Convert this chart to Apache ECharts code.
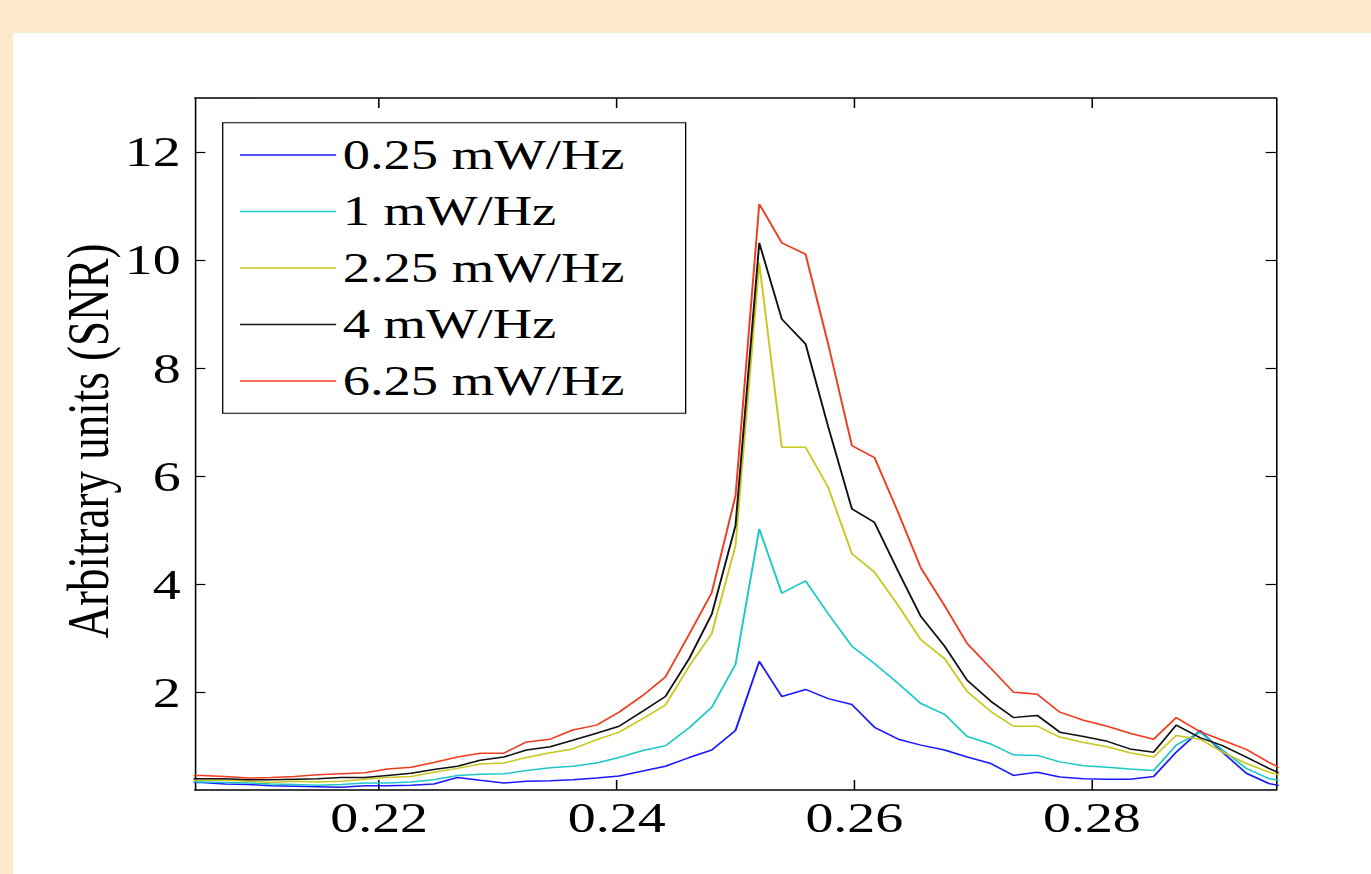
<!DOCTYPE html>
<html><head><meta charset="utf-8">
<script src="https://cdn.jsdelivr.net/npm/echarts@6/dist/echarts.min.js"></script>
<style>
html,body{margin:0;padding:0;width:1371px;height:874px;overflow:hidden;background:#fdeacb;}
#white{position:absolute;left:13px;top:33px;width:1358px;height:841px;background:#ffffff;}
#chart{position:absolute;left:0;top:0;width:1055px;height:874px;transform-origin:0 0;}
</style></head><body>
<div id="white"></div>
<div id="chart"></div>
<script>
// ---- data ----
const xValues = [0.2031,0.2051,0.2070,0.2090,0.2109,0.2129,0.2148,0.2168,0.2188,0.2207,0.2227,0.2246,0.2266,0.2285,0.2305,0.2324,0.2344,0.2363,0.2383,0.2402,0.2422,0.2441,0.2461,0.2480,0.2500,0.2520,0.2539,0.2559,0.2578,0.2598,0.2617,0.2637,0.2656,0.2676,0.2695,0.2715,0.2734,0.2754,0.2773,0.2793,0.2813,0.2832,0.2852,0.2871,0.2891,0.2910,0.2930,0.2949,0.2969];
const s025 = [0.34,0.34,0.31,0.30,0.28,0.27,0.26,0.25,0.28,0.28,0.29,0.31,0.43,0.38,0.33,0.36,0.37,0.39,0.42,0.46,0.55,0.64,0.80,0.94,1.30,2.58,1.93,2.06,1.89,1.78,1.36,1.14,1.03,0.94,0.81,0.69,0.47,0.53,0.44,0.41,0.40,0.40,0.45,0.90,1.30,0.90,0.51,0.32,0.23];
const s1 = [0.35,0.35,0.34,0.33,0.31,0.30,0.29,0.30,0.33,0.33,0.35,0.39,0.47,0.49,0.50,0.56,0.61,0.64,0.70,0.80,0.93,1.02,1.35,1.73,2.52,5.03,3.84,4.07,3.46,2.86,2.54,2.17,1.80,1.60,1.19,1.05,0.85,0.84,0.72,0.65,0.62,0.59,0.56,1.03,1.27,0.94,0.60,0.41,0.35];
const s225 = [0.38,0.38,0.38,0.36,0.34,0.36,0.35,0.36,0.40,0.43,0.45,0.53,0.60,0.68,0.70,0.80,0.89,0.96,1.13,1.27,1.52,1.77,2.49,3.09,4.72,9.95,6.54,6.54,5.80,4.57,4.23,3.61,2.98,2.63,2.02,1.65,1.38,1.38,1.18,1.08,1.00,0.89,0.81,1.21,1.14,0.90,0.69,0.53,0.42];
const s4 = [0.41,0.41,0.41,0.39,0.39,0.40,0.41,0.43,0.43,0.47,0.51,0.58,0.64,0.75,0.81,0.94,1.00,1.12,1.25,1.38,1.66,1.93,2.63,3.45,5.09,10.32,8.91,8.45,6.92,5.40,5.15,4.24,3.41,2.86,2.23,1.84,1.54,1.58,1.27,1.19,1.10,0.96,0.90,1.40,1.17,1.02,0.81,0.60,0.40];
const s625 = [0.47,0.47,0.45,0.42,0.43,0.45,0.48,0.50,0.52,0.59,0.62,0.71,0.81,0.88,0.88,1.09,1.14,1.31,1.40,1.64,1.95,2.29,3.08,3.85,5.64,11.04,10.32,10.11,8.45,6.57,6.35,5.33,4.31,3.61,2.91,2.45,2.01,1.97,1.64,1.49,1.38,1.25,1.14,1.54,1.28,1.12,0.95,0.71,0.50];
const seriesNames = ['0.25 mW/Hz','1 mW/Hz','2.25 mW/Hz','4 mW/Hz','6.25 mW/Hz'];
const seriesValues = [s025, s1, s225, s4, s625];
const seriesColors = ['#1a1aff','#1ec8c8','#c8c81e','#111111','#f03c1e'];
const xTicks = [0.22,0.24,0.26,0.28];
const yTicks = [2,4,6,8,10,12];
const yTitle = 'Arbitrary units (SNR)';

// ---- layout (reference is horizontally stretched; emulate with scaleX) ----
const SX = 1371/1055;
const el = document.getElementById('chart');
el.style.transform = 'scaleX(' + SX + ')';
const FONT = 'Liberation Serif, Times New Roman, serif';

const chart = echarts.init(el, null, {renderer:'svg'});

function xAxisDef(pos, labels){
  return {
    type:'value', position:pos, min:0.2045, max:0.2955,
    axisLine:{show:true, onZero:false, lineStyle:{color:'#000', width:1.5}},
    axisTick:{show:true, inside:true, length:10, customValues:xTicks, lineStyle:{color:'#000', width:1.2}},
    axisLabel:{show:labels, customValues:xTicks, fontSize:43, fontFamily:FONT, color:'#000', margin:6,
      formatter:v=>v.toFixed(2)},
    splitLine:{show:false}
  };
}
function yAxisDef(pos, labels){
  return {
    type:'value', position:pos, min:0.2, max:13,
    axisLine:{show:true, onZero:false, lineStyle:{color:'#000', width:1.2}},
    axisTick:{show:true, inside:true, length:8, customValues:yTicks, lineStyle:{color:'#000', width:1.2}},
    axisLabel:{show:labels, customValues:yTicks, fontSize:43, fontFamily:FONT, color:'#000', margin:11},
    splitLine:{show:false}
  };
}

const option = {
  animation:false,
  backgroundColor:'transparent',
  grid:{left:195/SX, top:98, width:1081/SX, height:692, containLabel:false},
  xAxis:[xAxisDef('bottom', true), xAxisDef('top', false)],
  yAxis:[yAxisDef('left', true), yAxisDef('right', false)],
  legend:{
    orient:'vertical', left:222.7/SX, top:122.7,
    padding:[4, 47, 4, 13.3],
    icon:'rect', itemWidth:74, itemHeight:1.6, itemGap:0,
    borderColor:'#000', borderWidth:1, backgroundColor:'#fff',
    textStyle:{fontSize:42, fontFamily:FONT, color:'#000', lineHeight:56.5},
    data:seriesNames
  },
  graphic:[{
    type:'text', x:88/SX, y:441, rotation:Math.PI/2,
    style:{text:yTitle, fontSize:45, fontFamily:FONT, fill:'#000', align:'center', verticalAlign:'middle'}
  }],
  series: seriesNames.map((name,i)=>({
    name, type:'line', xAxisIndex:0, yAxisIndex:0, symbol:'none', clip:true,
    lineStyle:{color:seriesColors[i], width:1.5}, itemStyle:{color:seriesColors[i]},
    data: xValues.map((x,j)=>[x, seriesValues[i][j]])
  }))
};
chart.setOption(option);
</script>
</body></html>
